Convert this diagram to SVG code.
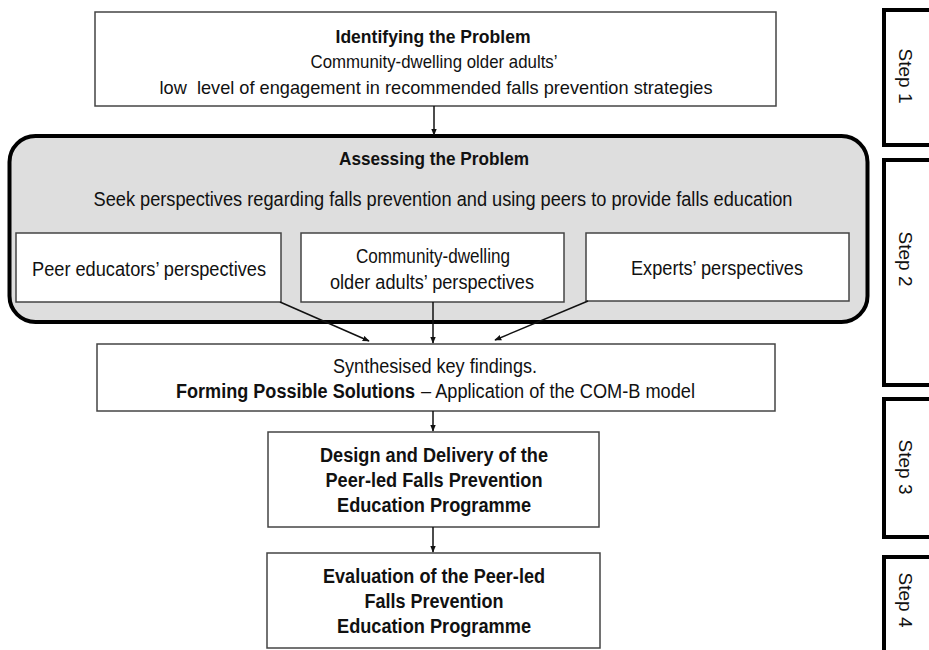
<svg xmlns="http://www.w3.org/2000/svg" width="929" height="650" viewBox="0 0 929 650">
<style>
text{font-family:"Liberation Sans",Arial,sans-serif;fill:#111;text-anchor:middle}
.b{font-weight:bold}
.s{text-anchor:start}
.box{fill:#fff;stroke:#444;stroke-width:1.5}
.step{fill:#fff;stroke:#000;stroke-width:4}
.c{stroke:#111;stroke-width:1.5;fill:none;marker-end:url(#ah)}
</style>
<defs>
<marker id="ah" viewBox="0 0 10 10" refX="9" refY="5" markerWidth="7" markerHeight="7" markerUnits="userSpaceOnUse" orient="auto">
<path d="M0,1 L10,5 L0,9 z" fill="#111"/>
</marker>
</defs>
<rect width="929" height="650" fill="#fff"/>
<g id="step1"><rect class="step" x="884" y="10" width="50" height="135"/><text transform="translate(905,76) rotate(90)" font-size="19" dy="6">Step 1</text></g>
<g id="step2"><rect class="step" x="884" y="160" width="50" height="225"/><text transform="translate(905,259) rotate(90)" font-size="19" dy="6">Step 2</text></g>
<g id="step3"><rect class="step" x="884" y="399" width="50" height="138"/><text transform="translate(905,467) rotate(90)" font-size="19" dy="6">Step 3</text></g>
<g id="step4"><rect class="step" x="884" y="557" width="50" height="100"/><text transform="translate(905,600) rotate(90)" font-size="19" dy="6">Step 4</text></g>

<g id="identify"><rect class="box" x="95" y="12" width="681" height="94"/>
<text class="b" x="433" y="43" font-size="18" textLength="195" lengthAdjust="spacingAndGlyphs">Identifying the Problem</text>
<text x="434" y="68" font-size="19" textLength="247" lengthAdjust="spacingAndGlyphs">Community-dwelling older adults’</text>
<text x="436" y="94" font-size="19" textLength="553" lengthAdjust="spacingAndGlyphs" xml:space="preserve">low  level of engagement in recommended falls prevention strategies</text></g>

<g id="assess"><rect x="9.5" y="136" width="858" height="186" rx="26" fill="#dedede" stroke="#000" stroke-width="4"/>
<text class="b" x="434" y="165" font-size="18" textLength="190" lengthAdjust="spacingAndGlyphs">Assessing the Problem</text>
<text x="443" y="206" font-size="20" textLength="699" lengthAdjust="spacingAndGlyphs">Seek perspectives regarding falls prevention and using peers to provide falls education</text></g>

<g id="peer"><rect class="box" x="16" y="233" width="265" height="69"/><text x="149" y="276" font-size="20" textLength="234" lengthAdjust="spacingAndGlyphs">Peer educators’ perspectives</text></g>
<g id="community"><rect class="box" x="301" y="233" width="263" height="69"/><text x="433" y="263" font-size="20" textLength="154" lengthAdjust="spacingAndGlyphs">Community-dwelling</text><text x="432" y="289" font-size="20" textLength="204" lengthAdjust="spacingAndGlyphs">older adults’ perspectives</text></g>
<g id="experts"><rect class="box" x="586" y="233" width="263" height="68"/><text x="717" y="275" font-size="20" textLength="172" lengthAdjust="spacingAndGlyphs">Experts’ perspectives</text></g>

<g id="synth"><rect class="box" x="97" y="344" width="678" height="67"/>
<text x="435" y="373" font-size="20" textLength="204" lengthAdjust="spacingAndGlyphs">Synthesised key findings.</text>
<text class="b s" x="176" y="398" font-size="20" textLength="239" lengthAdjust="spacingAndGlyphs">Forming Possible Solutions</text>
<text class="s" x="421" y="398" font-size="20" textLength="274" lengthAdjust="spacingAndGlyphs">– Application of the COM-B model</text></g>

<g id="design"><rect class="box" x="268" y="432" width="331" height="95"/>
<text class="b" x="434" y="462" font-size="19.5" textLength="228" lengthAdjust="spacingAndGlyphs">Design and Delivery of the</text>
<text class="b" x="434" y="487" font-size="19.5" textLength="217" lengthAdjust="spacingAndGlyphs">Peer-led Falls Prevention</text>
<text class="b" x="434" y="512" font-size="19.5" textLength="194" lengthAdjust="spacingAndGlyphs">Education Programme</text></g>

<g id="evaluation"><rect class="box" x="267" y="553" width="333" height="95"/>
<text class="b" x="434" y="583" font-size="19.5" textLength="222" lengthAdjust="spacingAndGlyphs">Evaluation of the Peer-led</text>
<text class="b" x="434" y="608" font-size="19.5" textLength="139" lengthAdjust="spacingAndGlyphs">Falls Prevention</text>
<text class="b" x="434" y="633" font-size="19.5" textLength="194" lengthAdjust="spacingAndGlyphs">Education Programme</text></g>

<g id="connectors">
<path class="c" d="M434,106 L434,135"/>
<path class="c" d="M280,302 L369,341"/>
<path class="c" d="M433,302 L433,343"/>
<path class="c" d="M588,301 L495,340"/>
<path class="c" d="M433,411 L433,431"/>
<path class="c" d="M433,527 L433,552"/>
</g>
</svg>
